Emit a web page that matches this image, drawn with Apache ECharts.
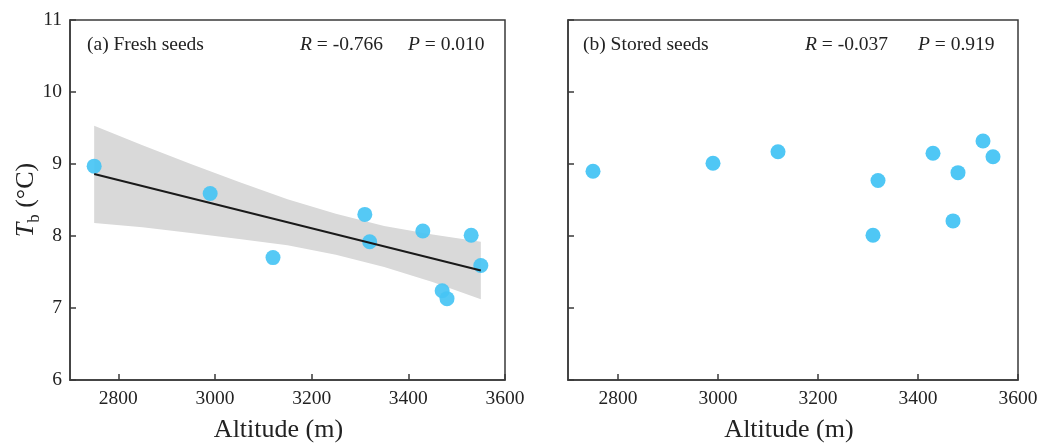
<!DOCTYPE html>
<html>
<head>
<meta charset="utf-8">
<script src="https://cdn.jsdelivr.net/npm/echarts@6/dist/echarts.min.js"></script>
<style>
html,body{margin:0;padding:0;background:#fff;}
#chart{width:1040px;height:444px;}
</style>
</head>
<body>
<div id="chart"></div>
<script>
// ---- data ----
const altitude   = [2750, 2990, 3120, 3310, 3320, 3430, 3470, 3480, 3530, 3550];
const tbFresh    = [8.97, 8.59, 7.70, 8.30, 7.92, 8.07, 7.24, 7.13, 8.01, 7.59];
const tbStored   = [8.90, 9.01, 9.17, 8.01, 8.77, 9.15, 8.21, 8.88, 9.32, 9.10];
const fitX       = [2750, 3550];
const fitY       = [8.86, 7.52];
const bandX      = [2750, 2850, 2950, 3050, 3150, 3250, 3350, 3450, 3550];
const bandUpper  = [9.53, 9.26, 9.00, 8.75, 8.51, 8.31, 8.14, 8.02, 7.92];
const bandLower  = [8.18, 8.12, 8.04, 7.96, 7.87, 7.74, 7.57, 7.36, 7.12];
const panelLabels = ['(a) Fresh seeds', '(b) Stored seeds'];
const rValues = ['-0.766', '-0.037'];
const pValues = ['0.010', '0.919'];
const xTitle = 'Altitude (m)';

const SERIF = '"Liberation Serif", "DejaVu Serif", serif';
const AX = '#3a3a3a';
const DOT = '#46c4f4';

const chart = echarts.init(document.getElementById('chart'));

function xAxis(idx, padRight) {
  return {
    type: 'value', gridIndex: idx, min: 2700, max: 3600,
    name: xTitle, nameLocation: 'middle', nameGap: 37, nameMoveOverlap: false,
    nameTextStyle: { fontFamily: SERIF, fontSize: 26, color: '#222', padding: [0, padRight, 0, 0] },
    axisLine: { show: true, lineStyle: { color: AX, width: 1.5 } },
    axisTick: { show: true, inside: true, length: 6, lineStyle: { color: AX, width: 1.5 } },
    axisLabel: { showMinLabel: false, margin: 9, fontFamily: SERIF, fontSize: 19.5, color: '#222',
                 formatter: function (v) { return String(v); } },
    splitLine: { show: false }
  };
}
function yAxis(idx, showLabel) {
  const a = {
    type: 'value', gridIndex: idx, min: 6, max: 11, interval: 1,
    axisLine: { show: true, lineStyle: { color: AX, width: 1.5 } },
    axisTick: { show: true, inside: true, length: 6, lineStyle: { color: AX, width: 1.5 } },
    axisLabel: { show: showLabel, margin: 8, fontFamily: SERIF, fontSize: 19.5, color: '#222',
                 formatter: function (v) { return String(v); } },
    splitLine: { show: false }
  };
  if (showLabel) {
    a.name = '{t|T}{s|b}{n| (°C)}';
    a.nameLocation = 'middle';
    a.nameGap = 27;
    a.nameMoveOverlap = false;
    a.nameTextStyle = {
      fontFamily: SERIF, color: '#222',
      rich: {
        t: { fontFamily: SERIF, fontSize: 26, fontStyle: 'italic', color: '#222', lineHeight: 34 },
        s: { fontFamily: SERIF, fontSize: 17, color: '#222', verticalAlign: 'bottom', lineHeight: 34, padding: [12, 0, 0, 0] },
        n: { fontFamily: SERIF, fontSize: 26, color: '#222', lineHeight: 34 }
      }
    };
  }
  return a;
}

function panelText(i, x0, xr, xp) {
  return [
    { type: 'text', left: x0, top: 35, style: { text: panelLabels[i], font: '19.5px ' + SERIF, fill: '#222' } },
    { type: 'text', left: xr, top: 35, style: {
        text: '{i|R} = ' + rValues[i], font: '19.5px ' + SERIF, fill: '#222',
        rich: { i: { fontFamily: SERIF, fontSize: 19.5, fontStyle: 'italic', fill: '#222' } } } },
    { type: 'text', left: xp, top: 35, style: {
        text: '{i|P} = ' + pValues[i], font: '19.5px ' + SERIF, fill: '#222',
        rich: { i: { fontFamily: SERIF, fontSize: 19.5, fontStyle: 'italic', fill: '#222' } } } }
  ];
}

const option = {
  animation: false,
  backgroundColor: '#fff',
  grid: [
    { left: 70, top: 20, width: 435, height: 360, show: true, borderColor: AX, borderWidth: 1.5,
      backgroundColor: 'transparent', containLabel: false, outerBoundsMode: 'none' },
    { left: 568, top: 20, width: 450, height: 360, show: true, borderColor: AX, borderWidth: 1.5,
      backgroundColor: 'transparent', containLabel: false, outerBoundsMode: 'none' }
  ],
  xAxis: [xAxis(0, 18), xAxis(1, 8)],
  yAxis: [yAxis(0, true), yAxis(1, false)],
  graphic: [].concat(panelText(0, 87, 300, 408), panelText(1, 583, 805, 918)),
  series: [
    {
      type: 'custom', xAxisIndex: 0, yAxisIndex: 0, z: 1,
      data: [0],
      renderItem: function (params, api) {
        const pts = [];
        for (let k = 0; k < bandX.length; k++) pts.push(api.coord([bandX[k], bandUpper[k]]));
        for (let k = bandX.length - 1; k >= 0; k--) pts.push(api.coord([bandX[k], bandLower[k]]));
        return { type: 'polygon', shape: { points: pts }, style: { fill: '#d9d9d9' } };
      },
      silent: true
    },
    {
      type: 'scatter', xAxisIndex: 0, yAxisIndex: 0, z: 2,
      symbolSize: 15,
      itemStyle: { color: DOT, opacity: 0.92 },
      data: altitude.map((a, k) => [a, tbFresh[k]])
    },
    {
      type: 'line', xAxisIndex: 0, yAxisIndex: 0, z: 3,
      symbol: 'none',
      lineStyle: { color: '#1a1a1a', width: 2 },
      data: fitX.map((a, k) => [a, fitY[k]])
    },
    {
      type: 'scatter', xAxisIndex: 1, yAxisIndex: 1, z: 2,
      symbolSize: 15,
      itemStyle: { color: DOT, opacity: 0.95 },
      data: altitude.map((a, k) => [a, tbStored[k]])
    }
  ]
};
chart.setOption(option);
</script>
</body>
</html>
